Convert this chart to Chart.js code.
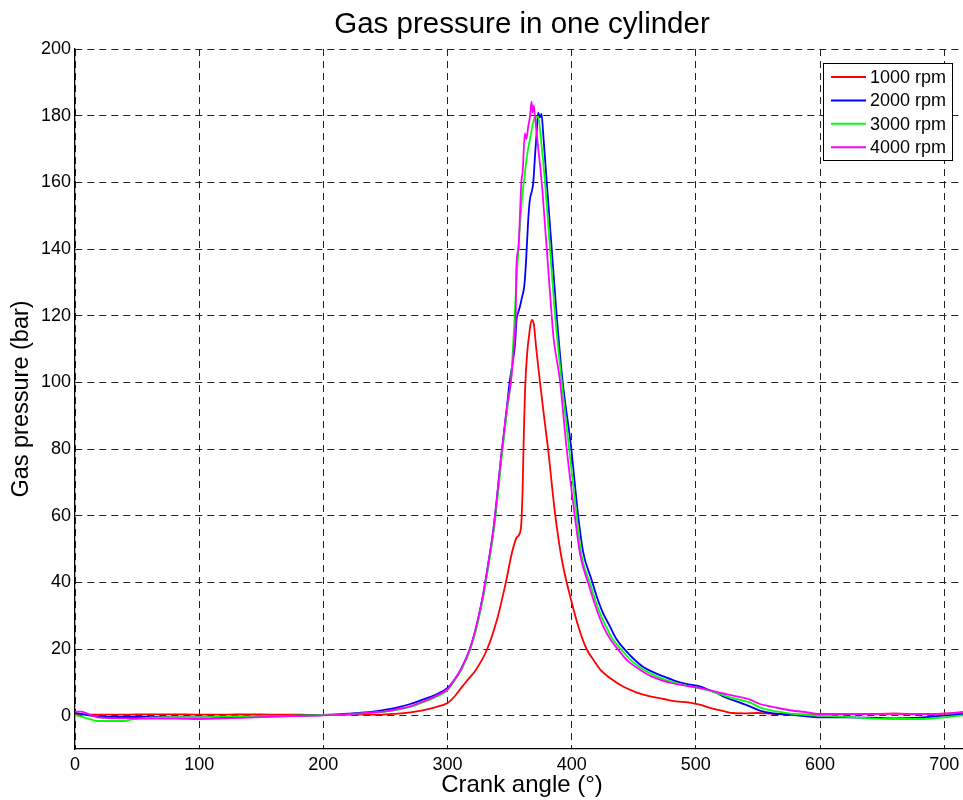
<!DOCTYPE html>
<html><head><meta charset="utf-8">
<script src="https://cdn.jsdelivr.net/npm/chart.js@4"></script>
<style>
html,body{margin:0;padding:0;overflow:hidden;background:#fff}
#wrap{position:relative;width:985px;height:800px}
</style>
</head><body>
<div id="wrap"><canvas id="c"></canvas></div>
<script>
const chartTitle = 'Gas pressure in one cylinder';
const xAxisTitle = 'Crank angle (°)';
const yAxisTitle = 'Gas pressure (bar)';
const seriesNames = ['1000 rpm', '2000 rpm', '3000 rpm', '4000 rpm'];
const seriesColors = ['#ff0000', '#0000ff', '#00ff00', '#ff00ff'];
const xTicks = [0, 100, 200, 300, 400, 500, 600, 700];
const yTicks = [0, 20, 40, 60, 80, 100, 120, 140, 160, 180, 200];
const xRange = [0, 720];
const yRange = [-10, 200];

const angle1000 = [0, 10, 20, 40, 60, 80, 100, 120, 140, 160, 180, 200, 220, 240, 250, 260, 270, 280, 290, 300, 306, 312, 318, 323, 332, 340, 347, 352, 355.5, 358, 359.5, 360.5, 361.5, 362.5, 364, 366, 367.8, 369.5, 371.5, 374.5, 378, 381, 386.5, 392, 400, 406, 412, 418, 423, 432, 441, 452, 463, 474, 484, 494, 503, 510, 517, 524, 530, 540, 550, 560, 580, 600, 620, 640, 660, 680, 700, 720];
const pressure1000 = [0.5, 0.3, 0.3, 0.3, 0.4, 0.4, 0.3, 0.3, 0.4, 0.3, 0.3, 0.2, 0.3, 0.3, 0.4, 0.6, 1.0, 1.6, 2.5, 3.8, 5.9, 8.8, 11.5, 13.8, 20, 29, 40, 49, 53.3, 54.5, 58, 68, 85, 98, 108, 115, 118.7, 117.5, 110, 100, 89, 80, 61, 47, 34, 26, 20, 16.5, 13.8, 11, 8.8, 7, 5.8, 5, 4.3, 4, 3.3, 2.5, 1.8, 1.2, 0.8, 0.7, 0.8, 0.6, 0.3, 0.4, 0.4, 0.5, 0.6, 0.5, 0.6, 0.8];

const angle2000 = [0, 10, 20, 40, 60, 80, 100, 120, 140, 160, 180, 200, 220, 240, 250, 260, 270, 280, 290, 300, 306, 311, 318, 324, 329, 333, 337, 340, 343, 345.5, 348, 350, 352.5, 354.5, 355.6, 357, 358.3, 360, 361.5, 362.3, 363.5, 365, 366.3, 368, 369, 370.5, 372, 373, 374.5, 375.7, 377, 379.8, 383.8, 387.8, 392.6, 399.5, 405.3, 409.3, 416, 420, 425, 430.8, 436, 442.8, 450, 458, 466, 473.7, 484.4, 494, 503, 510, 516.7, 525, 535, 543.5, 551.5, 560, 580, 600, 620, 640, 660, 680, 700, 720];
const pressure2000 = [0.8, 0.2, -0.3, -0.4, -0.4, -0.5, -0.5, -0.4, -0.3, -0.2, 0, 0.2, 0.6, 1.2, 1.8, 2.5, 3.5, 4.8, 6.2, 8.3, 11, 14, 20, 28, 37, 46, 56, 66, 77, 85, 93, 100, 106, 112, 118.7, 121, 122.7, 125.5, 128, 130.7, 138, 148.7, 154.7, 157.5, 159.7, 168, 176, 180.9, 179.5, 180.5, 175, 160.7, 140.7, 120.7, 100.7, 80.7, 59.8, 49, 40.8, 36, 31, 26.8, 23, 19.8, 17, 14.5, 13, 11.8, 10.3, 9.4, 8.8, 7.8, 6.8, 5.3, 4, 2.8, 1.5, 0.8, 0.2, -0.5, -0.5, -0.6, -0.8, -0.6, 0, 0.5];

const angle3000 = [0, 10, 18, 40, 45, 60, 80, 100, 120, 140, 160, 180, 200, 220, 240, 250, 260, 270, 280, 290, 300, 306.5, 311.5, 318.5, 324.5, 329.5, 333.5, 337.5, 340.5, 343.5, 346, 348.5, 351, 353, 355.6, 358, 360, 362.3, 364, 366.3, 368.5, 370.4, 373, 375.5, 378.4, 382.4, 386.5, 391.8, 398, 404, 408, 415, 421, 427.5, 433, 440, 448, 458, 468.3, 482, 495, 505, 515, 525, 535, 543.5, 551.5, 560, 570, 580, 600, 620, 640, 660, 680, 700, 720];
const pressure3000 = [0.2, -0.8, -1.6, -1.6, -1.2, -0.6, -0.5, -0.5, -0.3, -0.2, -0.1, 0, 0.2, 0.4, 0.9, 1.2, 1.8, 2.6, 4.0, 5.5, 7.6, 11, 14, 20, 28, 37, 46, 56, 66, 77, 85, 93, 100, 112, 130.7, 145, 155, 162.7, 168, 172.7, 177, 179.7, 179.7, 172, 160.7, 140.7, 120.7, 100.7, 80, 60, 48, 39.5, 32.5, 26.8, 23, 19.8, 16.5, 13.8, 11.8, 10, 8.8, 8, 7, 5.8, 4.8, 4, 2.5, 1.6, 1, 0.5, 0, -0.3, -0.8, -1, -1, -0.5, 0.3];

const angle4000 = [0, 5, 12, 20, 40, 60, 80, 100, 120, 140, 160, 180, 200, 220, 240, 250, 260, 270, 280, 290, 300, 306, 311, 318, 324, 329, 333, 337, 340, 343, 345.5, 348, 351, 353, 354.5, 355, 355.3, 357, 359.6, 360.5, 362.3, 363.5, 365, 366.5, 367.7, 368.5, 369.5, 370.4, 372, 375.7, 379.8, 384.6, 385.5, 390.5, 396, 402.5, 407, 414, 420, 425.4, 431, 437.5, 445, 455, 464.3, 480, 495, 505, 520, 530, 543.5, 551.5, 560, 570, 580, 590, 600, 620, 640, 660, 680, 700, 720];
const pressure4000 = [1.2, 1.2, 0.3, -0.6, -0.8, -0.9, -0.9, -1.0, -0.8, -0.6, -0.3, -0.1, 0.1, 0.4, 1.0, 1.3, 2, 2.8, 4.2, 5.8, 8, 11, 14, 20, 28, 37, 46, 56, 66, 77, 85, 93, 100, 108, 116, 120, 133, 140, 160.7, 163, 174.7, 173, 176.7, 180, 184.2, 181, 183, 180, 174, 160.7, 140.7, 116.7, 113, 100.7, 80, 60, 48, 39, 32, 26.8, 23, 19.8, 16.5, 13.8, 11.8, 9.8, 8.8, 8.2, 6.8, 6, 4.8, 3.5, 2.8, 2, 1.4, 1, 0.5, 0.5, 0.5, 0.6, 0.5, 0.6, 1.3];

const seriesAngles = [angle1000, angle2000, angle3000, angle4000];
const seriesPressures = [pressure1000, pressure2000, pressure3000, pressure4000];

const FONT = "'Liberation Sans', Arial, Helvetica, sans-serif";
Chart.defaults.font.family = FONT;
Chart.defaults.color = '#000';

const datasets = seriesNames.map((name, i) => ({
  label: name,
  data: seriesAngles[i].map((a, k) => ({x: a, y: seriesPressures[i][k]})),
  borderColor: seriesColors[i],
  backgroundColor: seriesColors[i],
  borderWidth: 1.8,
  pointRadius: 0,
  fill: false,
  cubicInterpolationMode: 'monotone',
  order: seriesNames.length - 1 - i
}));

const titlePlugin = {
  id: 'matTitle',
  afterDraw(chart) {
    const ctx = chart.ctx, a = chart.chartArea;
    ctx.save();
    ctx.font = '29.5px ' + FONT;
    ctx.fillStyle = '#000';
    ctx.textAlign = 'center';
    ctx.textBaseline = 'alphabetic';
    ctx.fillText(chartTitle, (a.left + a.right) / 2, a.top - 16);
    ctx.restore();
  }
};

const legendPlugin = {
  id: 'matLegend',
  afterDraw(chart) {
    const ctx = chart.ctx, a = chart.chartArea;
    const ds = chart.data.datasets;
    const boxR = a.right - 17, boxL = boxR - 129, boxT = a.top + 14;
    const rowH = 23.4;
    const boxB = boxT + 14 + rowH * (ds.length - 1) + 13;
    ctx.save();
    ctx.fillStyle = '#fff';
    ctx.fillRect(boxL, boxT, boxR - boxL, boxB - boxT);
    ctx.strokeStyle = '#000';
    ctx.lineWidth = 1;
    ctx.strokeRect(Math.round(boxL) + 0.5, Math.round(boxT) + 0.5, Math.round(boxR - boxL), Math.round(boxB - boxT));
    ctx.font = '18px ' + FONT;
    ctx.textBaseline = 'middle';
    ctx.textAlign = 'left';
    ds.forEach((d, i) => {
      const y = boxT + 14 + rowH * i;
      ctx.strokeStyle = d.borderColor;
      ctx.lineWidth = 2;
      ctx.beginPath();
      ctx.moveTo(boxL + 8, y);
      ctx.lineTo(boxL + 43, y);
      ctx.stroke();
      ctx.fillStyle = '#000';
      ctx.fillText(d.label, boxL + 47, y + 1);
    });
    ctx.restore();
  }
};

new Chart(document.getElementById('c'), {
  type: 'line',
  data: {datasets},
  plugins: [titlePlugin, legendPlugin],
  options: {
    responsive: true,
    maintainAspectRatio: false,
    animation: false,
    layout: {padding: {top: 49, right: 16, bottom: 0, left: 0}},
    plugins: {legend: {display: false}, title: {display: false}, tooltip: {enabled: false}},
    scales: {
      x: {
        type: 'linear',
        min: xRange[0], max: xRange[1],
        afterBuildTicks: s => { s.ticks = xTicks.map(v => ({value: v})); },
        afterFit: s => { s.height = 51; },
        ticks: {font: {size: 18}, padding: 5, color: '#000', maxRotation: 0},
        grid: {color: '#222', lineWidth: 1, drawTicks: false},
        border: {display: true, color: '#000', width: 1.3, dash: [7, 5]},
        title: {display: true, text: xAxisTitle, font: {size: 24}, color: '#000', padding: {top: 0, bottom: 0}}
      },
      y: {
        type: 'linear',
        min: yRange[0], max: yRange[1],
        afterBuildTicks: s => { s.ticks = yTicks.map(v => ({value: v})); },
        afterFit: s => { s.width = 75; },
        ticks: {font: {size: 18}, padding: 4, color: '#000'},
        grid: {color: '#222', lineWidth: 1, drawTicks: false},
        border: {display: true, color: '#000', width: 1.3, dash: [7, 5]},
        title: {display: true, text: yAxisTitle, font: {size: 23.5}, color: '#000', padding: {top: 7, bottom: 0}}
      }
    }
  }
});
</script>
</body></html>
